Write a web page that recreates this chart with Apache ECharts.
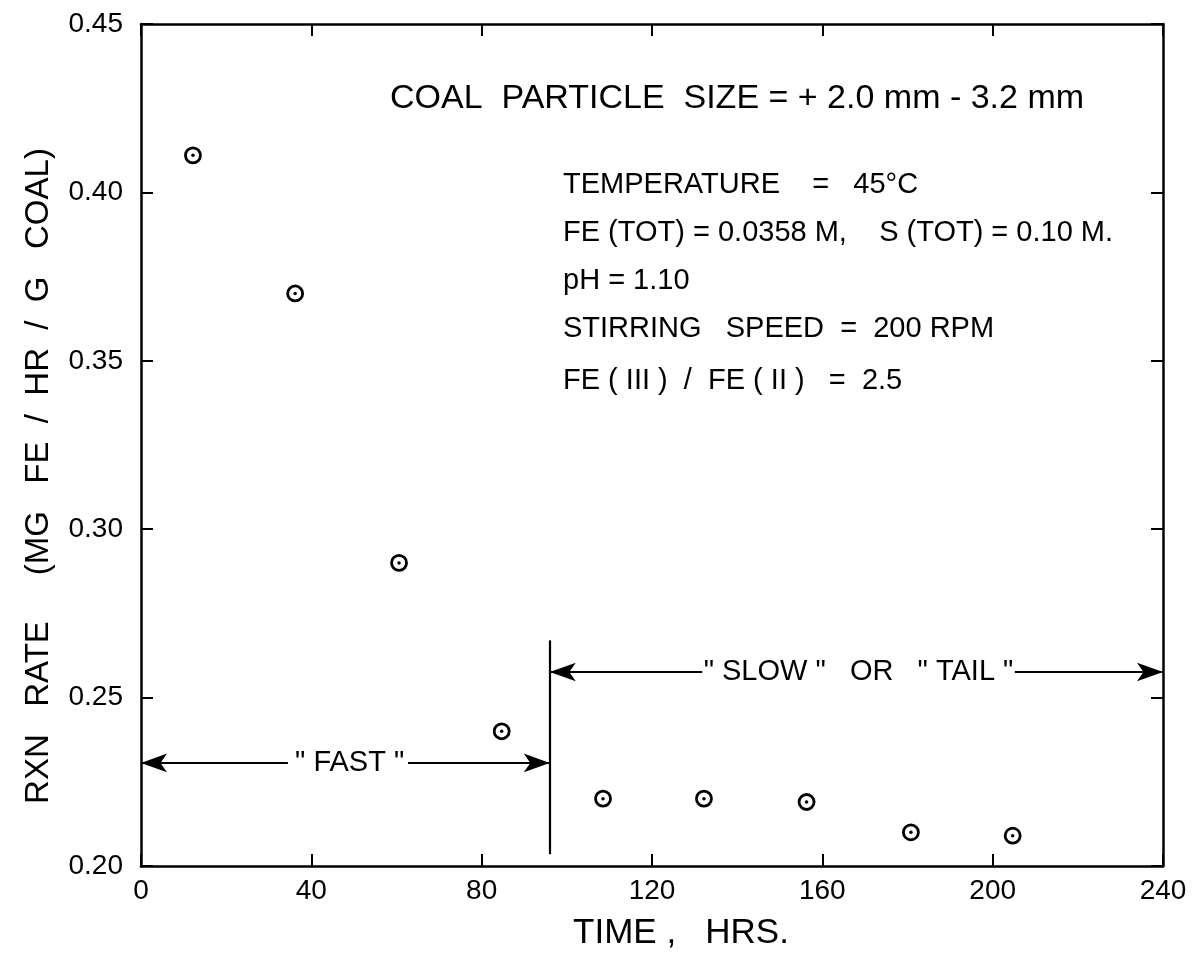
<!DOCTYPE html>
<html>
<head>
<meta charset="utf-8">
<script src="https://cdn.jsdelivr.net/npm/echarts@6/dist/echarts.min.js"></script>
<style>
  html, body { margin: 0; padding: 0; background: #fff; }
  #chart { width: 1199px; height: 965px; }
</style>
</head>
<body>
<div id="chart"></div>
<script>
// Reaction rate of coal leaching over time
const timeHrs = [12.2, 36.2, 60.6, 84.7, 108.5, 132.2, 156.3, 180.8, 204.7];
const rxnRate = [0.411, 0.370, 0.290, 0.240, 0.220, 0.220, 0.219, 0.210, 0.209];

const xTicks = [0, 40, 80, 120, 160, 200, 240];
const yTicks = [0.20, 0.25, 0.30, 0.35, 0.40, 0.45];

// regime boundary and the two regime arrows
const boundaryTime = 96;
const boundarySpan = [0.2035, 0.267];
const fastArrow = { y: 0.2306, from: 0, to: 96, gap: [34.5, 62.7], label: '" FAST "', labelX: 49 };
const slowArrow = { y: 0.2576, from: 96, to: 240, gap: [131.8, 205.2], label: '" SLOW "   OR   " TAIL "', labelX: 168.5 };

const conditionsTitle = 'COAL  PARTICLE  SIZE = + 2.0 mm - 3.2 mm';
const conditions = [
  'TEMPERATURE    =   45°C',
  'FE (TOT) = 0.0358 M,    S (TOT) = 0.10 M.',
  'pH = 1.10',
  'STIRRING   SPEED  =  200 RPM',
  'FE ( III )  /  FE ( II )   =  2.5'
];

const INK = '#000';
const FONT = '"Liberation Sans", Arial, sans-serif';

const chart = echarts.init(document.getElementById('chart'), null, { renderer: 'canvas' });

function arrowSegments(a) {
  return [
    [{ coord: [a.gap[0], a.y], symbol: 'none' }, { coord: [a.from, a.y], symbol: 'arrow' }],
    [{ coord: [a.gap[1], a.y], symbol: 'none' }, { coord: [a.to, a.y], symbol: 'arrow' }]
  ];
}

const axisBase = {
  min: 0, max: 240, interval: 40,
  axisLine: { show: true, onZero: false, lineStyle: { color: INK, width: 2.5 } },
  axisTick: { show: true, inside: true, length: 12, lineStyle: { color: INK, width: 2 } },
  splitLine: { show: false }
};
const yBase = {
  min: 0.20, max: 0.45, interval: 0.05,
  axisLine: { show: true, onZero: false, lineStyle: { color: INK, width: 2.5 } },
  axisTick: { show: true, inside: true, length: 12, lineStyle: { color: INK, width: 2 } },
  splitLine: { show: false }
};

chart.setOption({
  backgroundColor: '#fff',
  animation: false,
  grid: { left: 141, right: 36, top: 24, bottom: 99 },
  xAxis: [
    Object.assign({}, axisBase, {
      type: 'value', position: 'bottom',
      name: 'TIME ,   HRS.', nameLocation: 'middle', nameGap: 50,
      nameTextStyle: { color: INK, fontSize: 35, fontFamily: FONT, padding: [0, 0, 0, 58] },
      axisLabel: { color: INK, fontSize: 28, fontFamily: FONT, margin: 11,
        formatter: v => xTicks.indexOf(v) >= 0 ? String(v) : '' }
    }),
    Object.assign({}, axisBase, {
      type: 'value', position: 'top', axisLabel: { show: false }
    })
  ],
  yAxis: [
    Object.assign({}, yBase, {
      type: 'value', position: 'left',
      name: 'RXN   RATE     (MG   FE  /  HR  /  G   COAL)', nameLocation: 'middle', nameGap: 86,
      nameTextStyle: { color: INK, fontSize: 33, fontFamily: FONT, padding: [0, 62, 0, 0] },
      axisLabel: { color: INK, fontSize: 28, fontFamily: FONT, margin: 18,
        formatter: v => yTicks.find(t => Math.abs(t - v) < 1e-9) !== undefined ? v.toFixed(2) : '' }
    }),
    Object.assign({}, yBase, {
      type: 'value', position: 'right', axisLabel: { show: false }
    })
  ],
  graphic: [
    { type: 'text', left: 390, top: 82,
      style: { text: conditionsTitle, fill: INK, fontSize: 34, fontFamily: FONT } }
  ].concat(conditions.map((t, i) => ({
    type: 'text', left: 563, top: [170, 218, 266, 314, 366][i],
    style: { text: t, fill: INK, fontSize: 29, fontFamily: FONT }
  }))),
  series: [
    {
      name: 'rate', type: 'scatter',
      data: timeHrs.map((t, i) => [t, rxnRate[i]]),
      symbol: 'circle', symbolSize: 15,
      itemStyle: { color: '#fff', borderColor: INK, borderWidth: 2.8, opacity: 1 },
      z: 3,
      markLine: {
        silent: true,
        symbolSize: [14, 26],
        lineStyle: { color: INK, width: 2.2, type: 'solid' },
        label: { show: false },
        data: [
          [{ coord: [boundaryTime, boundarySpan[0]], symbol: 'none' },
           { coord: [boundaryTime, boundarySpan[1]], symbol: 'none' }]
        ].concat(arrowSegments(fastArrow), arrowSegments(slowArrow))
      }
    },
    {
      name: 'rate-centre', type: 'scatter',
      data: timeHrs.map((t, i) => [t, rxnRate[i]]),
      symbol: 'circle', symbolSize: 3.5,
      itemStyle: { color: INK, opacity: 1 },
      z: 4
    },
    {
      name: 'regime-labels', type: 'scatter',
      data: [[fastArrow.labelX, fastArrow.y, fastArrow.label],
             [slowArrow.labelX, slowArrow.y, slowArrow.label]],
      symbolSize: 0,
      itemStyle: { opacity: 1 },
      label: { show: true, position: 'inside', color: INK, fontSize: 29, fontFamily: FONT,
        formatter: p => p.value[2] },
      z: 5
    }
  ]
});
</script>
</body>
</html>
